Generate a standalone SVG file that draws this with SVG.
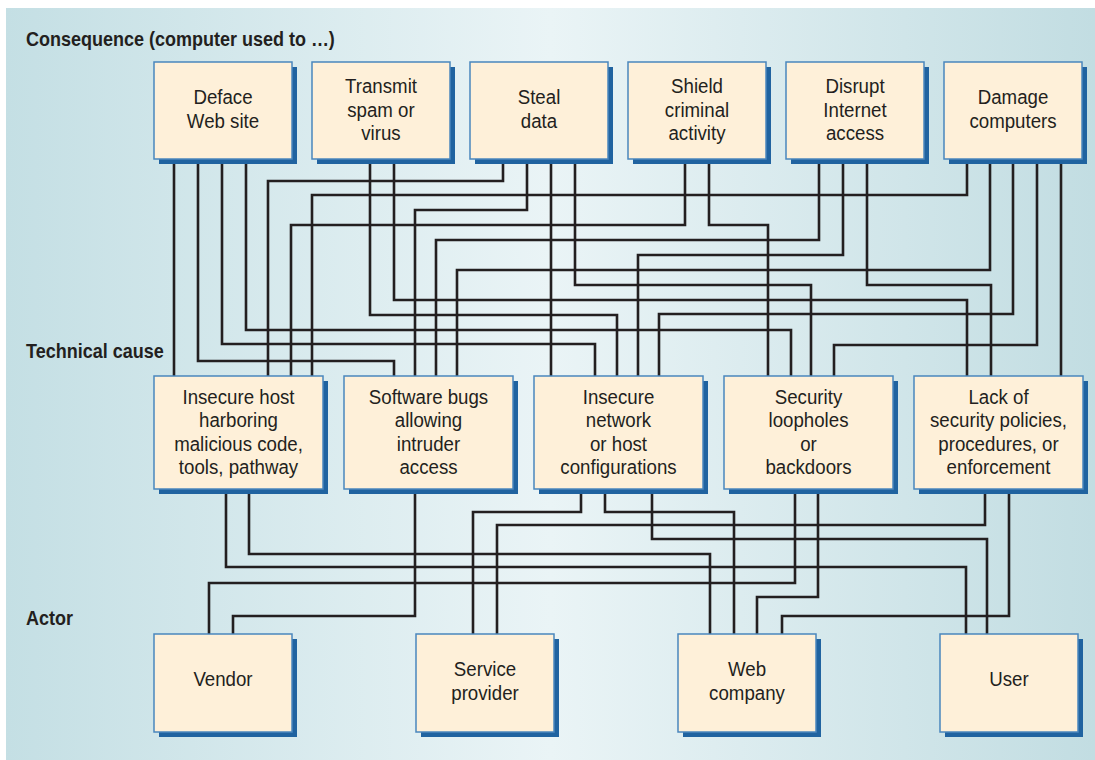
<svg xmlns="http://www.w3.org/2000/svg" width="1095" height="760" viewBox="0 0 1095 760">
  <defs>
    <linearGradient id="panelGrad" x1="0" y1="0" x2="1" y2="0">
      <stop offset="0" stop-color="#c4dfe4"/>
      <stop offset="0.5" stop-color="#eaf4f6"/>
      <stop offset="1" stop-color="#c2dde2"/>
    </linearGradient>
  </defs>
  <style>
    .shadow { fill: #2063a0; }
    .box { fill: #fef0d9; stroke: #4a87bd; stroke-width: 1.5; }
    .lbl { font-family: "Liberation Sans", Arial, sans-serif; font-size: 21px; fill: #231f20; text-anchor: middle; }
    .head { font-family: "Liberation Sans", Arial, sans-serif; font-size: 20px; font-weight: bold; fill: #231f20; }
    .wire { fill: none; stroke: #231f20; stroke-width: 2.6; stroke-linejoin: miter; }
  </style>

  <!-- background panel -->
  <rect x="0" y="0" width="1095" height="760" fill="#ffffff"/>
  <rect x="6" y="8" width="1089" height="752" fill="url(#panelGrad)"/>

  <!-- row headings (condensed horizontally) -->
  <g transform="translate(26 0) scale(0.9 1)">
    <text class="head" x="0" y="46">Consequence (computer used to …)</text>
    <text class="head" x="0" y="358">Technical cause</text>
    <text class="head" x="0" y="625">Actor</text>
  </g>

  <!-- connectors -->
  <g id="connectors" class="wire">
    <!-- consequence to technical cause -->
    <path d="M174,160 V376"/>
    <path d="M198,160 V361 H394 V376"/>
    <path d="M222,160 V344 H595 V376"/>
    <path d="M246,160 V330 H791 V376"/>
    <path d="M370,160 V315 H617 V376"/>
    <path d="M394,160 V300 H967 V376"/>
    <path d="M503,160 V181 H268 V376"/>
    <path d="M527,160 V210 H415 V376"/>
    <path d="M551,160 V376"/>
    <path d="M575,160 V285 H811 V376"/>
    <path d="M685,160 V225 H291 V376"/>
    <path d="M709,160 V225 H768 V376"/>
    <path d="M819,160 V240 H436 V376"/>
    <path d="M843,160 V255 H638 V376"/>
    <path d="M867,160 V285 H991 V376"/>
    <path d="M967,160 V195 H312 V376"/>
    <path d="M990,160 V270 H457 V376"/>
    <path d="M1013,160 V314 H659 V376"/>
    <path d="M1037,160 V345 H834 V376"/>
    <path d="M1061,160 V376"/>
    <!-- technical cause to actor -->
    <path d="M226,489 V567 H966 V634"/>
    <path d="M249,489 V554 H710 V634"/>
    <path d="M415,489 V616 H233 V634"/>
    <path d="M581,489 V512 H473 V634"/>
    <path d="M605,489 V512 H734 V634"/>
    <path d="M652,489 V539 H987 V634"/>
    <path d="M795,489 V583 H209 V634"/>
    <path d="M818,489 V597 H757 V634"/>
    <path d="M985,489 V525 H497 V634"/>
    <path d="M1009,489 V616 H782 V634"/>
  </g>

  <!-- consequences -->
  <g id="deface">
    <rect class="shadow" x="159" y="67" width="138" height="97"/>
    <rect class="box" x="154" y="62" width="138" height="97"/>
    <g transform="translate(223 0) scale(0.89 1)">
      <text class="lbl" x="0" y="104">Deface</text>
      <text class="lbl" x="0" y="128">Web site</text>
    </g>
  </g>
  <g id="transmit">
    <rect class="shadow" x="317" y="67" width="138" height="97"/>
    <rect class="box" x="312" y="62" width="138" height="97"/>
    <g transform="translate(381 0) scale(0.89 1)">
      <text class="lbl" x="0" y="93">Transmit</text>
      <text class="lbl" x="0" y="117">spam or</text>
      <text class="lbl" x="0" y="140">virus</text>
    </g>
  </g>
  <g id="steal">
    <rect class="shadow" x="475" y="67" width="138" height="97"/>
    <rect class="box" x="470" y="62" width="138" height="97"/>
    <g transform="translate(539 0) scale(0.89 1)">
      <text class="lbl" x="0" y="104">Steal</text>
      <text class="lbl" x="0" y="128">data</text>
    </g>
  </g>
  <g id="shield">
    <rect class="shadow" x="633" y="67" width="138" height="97"/>
    <rect class="box" x="628" y="62" width="138" height="97"/>
    <g transform="translate(697 0) scale(0.89 1)">
      <text class="lbl" x="0" y="93">Shield</text>
      <text class="lbl" x="0" y="117">criminal</text>
      <text class="lbl" x="0" y="140">activity</text>
    </g>
  </g>
  <g id="disrupt">
    <rect class="shadow" x="791" y="67" width="138" height="97"/>
    <rect class="box" x="786" y="62" width="138" height="97"/>
    <g transform="translate(855 0) scale(0.89 1)">
      <text class="lbl" x="0" y="93">Disrupt</text>
      <text class="lbl" x="0" y="117">Internet</text>
      <text class="lbl" x="0" y="140">access</text>
    </g>
  </g>
  <g id="damage">
    <rect class="shadow" x="949" y="67" width="138" height="97"/>
    <rect class="box" x="944" y="62" width="138" height="97"/>
    <g transform="translate(1013 0) scale(0.89 1)">
      <text class="lbl" x="0" y="104">Damage</text>
      <text class="lbl" x="0" y="128">computers</text>
    </g>
  </g>

  <!-- technical causes -->
  <g id="insecure-host">
    <rect class="shadow" x="159" y="381" width="169" height="113"/>
    <rect class="box" x="154" y="376" width="169" height="113"/>
    <g transform="translate(238.5 0) scale(0.89 1)">
      <text class="lbl" x="0" y="404">Insecure host</text>
      <text class="lbl" x="0" y="427.5">harboring</text>
      <text class="lbl" x="0" y="451">malicious code,</text>
      <text class="lbl" x="0" y="474.5">tools, pathway</text>
    </g>
  </g>
  <g id="software-bugs">
    <rect class="shadow" x="349" y="381" width="169" height="113"/>
    <rect class="box" x="344" y="376" width="169" height="113"/>
    <g transform="translate(428.5 0) scale(0.89 1)">
      <text class="lbl" x="0" y="404">Software bugs</text>
      <text class="lbl" x="0" y="427.5">allowing</text>
      <text class="lbl" x="0" y="451">intruder</text>
      <text class="lbl" x="0" y="474.5">access</text>
    </g>
  </g>
  <g id="insecure-network">
    <rect class="shadow" x="539" y="381" width="169" height="113"/>
    <rect class="box" x="534" y="376" width="169" height="113"/>
    <g transform="translate(618.5 0) scale(0.89 1)">
      <text class="lbl" x="0" y="404">Insecure</text>
      <text class="lbl" x="0" y="427.5">network</text>
      <text class="lbl" x="0" y="451">or host</text>
      <text class="lbl" x="0" y="474.5">configurations</text>
    </g>
  </g>
  <g id="security-loopholes">
    <rect class="shadow" x="729" y="381" width="169" height="113"/>
    <rect class="box" x="724" y="376" width="169" height="113"/>
    <g transform="translate(808.5 0) scale(0.89 1)">
      <text class="lbl" x="0" y="404">Security</text>
      <text class="lbl" x="0" y="427.5">loopholes</text>
      <text class="lbl" x="0" y="451">or</text>
      <text class="lbl" x="0" y="474.5">backdoors</text>
    </g>
  </g>
  <g id="lack-of-policies">
    <rect class="shadow" x="919" y="381" width="169" height="113"/>
    <rect class="box" x="914" y="376" width="169" height="113"/>
    <g transform="translate(998.5 0) scale(0.89 1)">
      <text class="lbl" x="0" y="404">Lack of</text>
      <text class="lbl" x="0" y="427.5">security policies,</text>
      <text class="lbl" x="0" y="451">procedures, or</text>
      <text class="lbl" x="0" y="474.5">enforcement</text>
    </g>
  </g>

  <!-- actors -->
  <g id="vendor">
    <rect class="shadow" x="159" y="639" width="138" height="98"/>
    <rect class="box" x="154" y="634" width="138" height="98"/>
    <g transform="translate(223 0) scale(0.89 1)">
      <text class="lbl" x="0" y="686">Vendor</text>
    </g>
  </g>
  <g id="service-provider">
    <rect class="shadow" x="421" y="639" width="138" height="98"/>
    <rect class="box" x="416" y="634" width="138" height="98"/>
    <g transform="translate(485 0) scale(0.89 1)">
      <text class="lbl" x="0" y="676">Service</text>
      <text class="lbl" x="0" y="700">provider</text>
    </g>
  </g>
  <g id="web-company">
    <rect class="shadow" x="683" y="639" width="138" height="98"/>
    <rect class="box" x="678" y="634" width="138" height="98"/>
    <g transform="translate(747 0) scale(0.89 1)">
      <text class="lbl" x="0" y="676">Web</text>
      <text class="lbl" x="0" y="700">company</text>
    </g>
  </g>
  <g id="user">
    <rect class="shadow" x="945" y="639" width="138" height="98"/>
    <rect class="box" x="940" y="634" width="138" height="98"/>
    <g transform="translate(1009 0) scale(0.89 1)">
      <text class="lbl" x="0" y="686">User</text>
    </g>
  </g>
</svg>
